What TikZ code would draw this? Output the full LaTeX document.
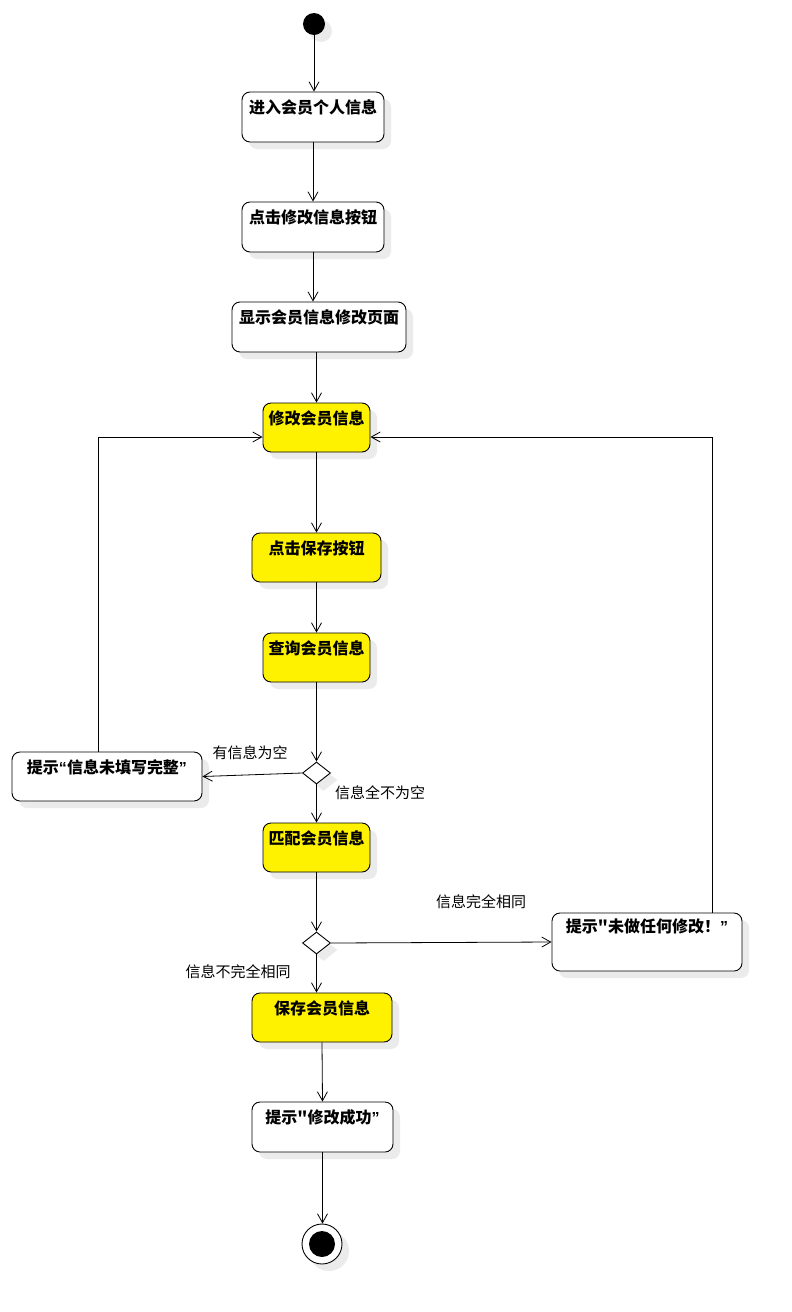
\documentclass[tikz,border=0pt]{standalone}
\usepackage{fontspec}
\newfontfamily\cjk{Noto Sans CJK SC}
\newfontfamily\lat{Liberation Sans}
\newcommand\myql{{\lat “}}
\newcommand\myqr{{\lat ”}}
\usetikzlibrary{arrows.meta,shapes.geometric,shadows,calc}
\begin{document}
\begin{tikzpicture}[x=1pt,y=-1pt,
  shad/.style={drop shadow={shadow xshift=7pt,shadow yshift=-7pt,fill=black!8,opacity=1}},
  act/.style={draw,line width=0.9pt,rounded corners=8pt,fill=white,shad,inner sep=0pt,
    font=\cjk\bfseries\fontsize{16}{18}\selectfont,text height=21pt,text depth=29pt,minimum height=50pt},
  hl/.style={act,fill=yellow,text depth=28pt,minimum height=49pt},
  dec/.style={draw,diamond,line width=0.9pt,fill=white,shad,minimum width=28pt,minimum height=22pt,inner sep=0pt},
  arr/.style={draw,line width=0.8pt,-{Straight Barb[length=9pt,width=10pt]}},
  lab/.style={font=\cjk\fontsize{15}{17}\selectfont,inner sep=0pt}
]
\fill[white] (0,0) rectangle (792,1312);
\useasboundingbox (0,0) rectangle (792,1312);

\node[circle,fill=black,minimum size=22pt,inner sep=0pt,shad] (start) at (314,24) {};
\node[act,minimum width=142pt] (n1) at (313,117) {进入会员个人信息};
\node[act,minimum width=142pt] (n2) at (313,227) {点击修改信息按钮};
\node[act,minimum width=174pt] (n3) at (319,327) {显示会员信息修改页面};
\node[hl,minimum width=107pt] (n4) at (316.5,427.5) {修改会员信息};
\node[hl,minimum width=129pt] (n5) at (316.5,557.5) {点击保存按钮};
\node[hl,minimum width=107pt] (n6) at (316.5,657.5) {查询会员信息};
\node[dec] (d1) at (316.5,773) {};
\node[act,minimum width=190pt,text depth=28pt,minimum height=49pt] (lt) at (107,776.5) {提示\myql 信息未填写完整\myqr};
\node[hl,minimum width=107pt] (n7) at (316.5,847.5) {匹配会员信息};
\node[dec] (d2) at (316.5,943) {};
\node[act,minimum width=190pt,text height=19pt,text depth=39pt,minimum height=58pt] (rt) at (647,942) {提示"未做任何修改！\myqr};
\node[hl,minimum width=140pt] (n8) at (322,1017.5) {保存会员信息};
\node[act,minimum width=141pt] (n9) at (322.5,1127) {提示"修改成功\myqr};
\node[circle,draw,line width=0.9pt,fill=white,minimum size=40pt,inner sep=0pt,shad] (end) at (322,1244) {};
\node[circle,fill=black,minimum size=26pt,inner sep=0pt] (endin) at (end) {};

\draw[arr] (start) -- (start |- n1.north);
\draw[arr] (n1.south) -- (n2.north);
\draw[arr] (n2.south) -- (n2.south |- n3.north);
\draw[arr] (n4.north |- n3.south) -- (n4.north);
\draw[arr] (n4.south) -- (n5.north);
\draw[arr] (n5.south) -- (n6.north);
\draw[arr] (n6.south) -- (d1.north);
\draw[arr] (d1.west) -- (lt.east);
\draw[arr] (d1.south) -- (n7.north);
\draw[arr] ([xshift=-9pt]lt.north) |- ([yshift=-9.5pt]n4.west);
\draw[arr] (n7.south) -- (d2.north);
\draw[arr] (d2.east) -- (rt.west);
\draw[arr] (d2.south) -- (d2.south |- n8.north);
\draw[arr] ([xshift=65pt]rt.north) |- ([yshift=-9.5pt]n4.east);
\draw[arr] (n8.south) -- (n9.north);
\draw[arr] (n9.south) -- (n9.south |- end.north);

\node[lab] (l1) at (250,753) {有信息为空};
\node[lab] (l2) at (380,793) {信息全不为空};
\node[lab] (l3) at (481,902) {信息完全相同};
\node[lab] (l4) at (238,972) {信息不完全相同};
\end{tikzpicture}
\end{document}
